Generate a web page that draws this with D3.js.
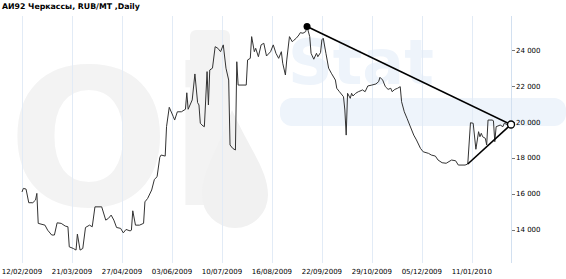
<!DOCTYPE html>
<html lang="ru">
<head>
<meta charset="UTF-8">
<title>АИ92 Черкассы</title>
<style>
  body { margin: 0; background: #fff; }
  svg { display: block; }
  text { font-family: "DejaVu Sans", Verdana, sans-serif; font-size: 7px; fill: #000; }
  .grid line { stroke: #e2ebf6; stroke-width: 1; }
  .price { fill: none; stroke: #333; stroke-width: 1; }
  .trend { stroke: #000; stroke-width: 1.6; }
</style>
</head>
<body>
<script src="https://cdn.jsdelivr.net/npm/d3@7/dist/d3.min.js"></script>
<script>
// price series
const dates = [
  "2009-02-12","2009-02-13","2009-02-15","2009-02-17","2009-02-20","2009-02-22","2009-02-23","2009-02-24",
  "2009-03-01","2009-03-03","2009-03-06","2009-03-08","2009-03-10","2009-03-13","2009-03-16","2009-03-18",
  "2009-03-19","2009-03-22","2009-03-24","2009-03-25","2009-03-27","2009-03-29","2009-03-31","2009-04-03",
  "2009-04-05","2009-04-07","2009-04-12","2009-04-15","2009-04-17","2009-04-19","2009-04-21","2009-04-23",
  "2009-04-26","2009-04-28","2009-04-30","2009-05-03","2009-05-04","2009-05-05","2009-05-07","2009-05-10",
  "2009-05-13","2009-05-14","2009-05-16","2009-05-19","2009-05-21","2009-05-23","2009-05-25","2009-05-26",
  "2009-05-29","2009-05-30","2009-06-01","2009-06-04","2009-06-05","2009-06-07","2009-06-10","2009-06-13",
  "2009-06-14","2009-06-15","2009-06-18","2009-06-20","2009-06-22","2009-06-23","2009-06-24","2009-06-26",
  "2009-06-27","2009-06-29","2009-06-30","2009-07-01","2009-07-03","2009-07-05","2009-07-07","2009-07-09",
  "2009-07-11","2009-07-13","2009-07-15","2009-07-16","2009-07-18","2009-07-20","2009-07-21","2009-07-22",
  "2009-07-28","2009-07-29","2009-07-31","2009-08-01","2009-08-03","2009-08-04","2009-08-06","2009-08-08",
  "2009-08-10","2009-08-12","2009-08-15","2009-08-17","2009-08-19","2009-08-21","2009-08-23","2009-08-24",
  "2009-08-26","2009-08-27","2009-08-29","2009-08-31","2009-09-01","2009-09-03","2009-09-05","2009-09-06",
  "2009-09-08","2009-09-10","2009-09-11","2009-09-13","2009-09-14","2009-09-16","2009-09-18","2009-09-19",
  "2009-09-21","2009-09-22","2009-09-23","2009-09-25","2009-09-27","2009-09-29","2009-10-02","2009-10-03",
  "2009-10-05","2009-10-08","2009-10-09","2009-10-10","2009-10-11","2009-10-13","2009-10-14","2009-10-15",
  "2009-10-17","2009-10-19","2009-10-21","2009-10-22","2009-10-24","2009-10-26","2009-10-29","2009-11-01",
  "2009-11-03","2009-11-04","2009-11-06","2009-11-08","2009-11-10","2009-11-12","2009-11-13","2009-11-15",
  "2009-11-17","2009-11-19","2009-11-20","2009-11-22","2009-11-24","2009-11-26","2009-11-29","2009-12-01",
  "2009-12-04","2009-12-06","2009-12-10","2009-12-12","2009-12-15","2009-12-17","2009-12-20","2009-12-23",
  "2009-12-27","2009-12-30","2010-01-01","2010-01-06","2010-01-08","2010-01-10","2010-01-12","2010-01-14",
  "2010-01-16","2010-01-17","2010-01-18","2010-01-19","2010-01-21","2010-01-22","2010-01-23","2010-01-26",
  "2010-01-27","2010-01-28","2010-01-29","2010-02-01","2010-02-03","2010-02-04","2010-02-07","2010-02-09"
];
const prices = [
  16100,16300,16260,15500,15500,15650,16020,14350,
  14250,13970,13700,13700,14380,14350,14200,14160,
  13040,12950,12860,13750,12860,12950,14120,14250,
  14160,15270,15270,14530,14630,14810,14530,14120,
  14070,13820,14010,13930,13970,15050,14250,14250,
  14350,15550,15740,16210,16800,16950,18030,18160,
  18100,19740,20820,20300,20110,20570,20570,20710,
  21630,20710,21230,22680,21080,20950,19930,19780,
  19740,22810,20950,22900,23000,24200,24110,23920,
  24300,23000,22340,18720,18530,18440,23360,22060,
  22060,23460,23550,24760,23920,24110,23640,24300,
  24390,23680,23920,24300,23830,23550,23920,23280,
  22620,23460,24760,24480,24540,24670,24850,24980,
  24950,25040,25320,24760,23830,23500,23830,23640,
  23870,24580,24670,23830,23000,22720,22340,21880,
  21690,21410,20670,19270,21600,21320,21600,21450,
  21600,21690,21750,21790,21690,22010,22060,22120,
  22250,22490,22340,21970,21820,21880,21690,21820,
  21880,21970,21130,20570,20210,19830,19270,19000,
  18530,18340,18250,18160,18100,17880,17730,17700,
  17880,17840,17600,17600,17660,19960,19930,18480,
  19460,19180,19370,19180,19090,18720,20110,20110,
  20070,18900,19740,19830,19740,19930,19830,19860
];

// axis ticks
const xTicks = ["12/02/2009","21/03/2009","27/04/2009","03/06/2009","10/07/2009",
                "16/08/2009","22/09/2009","29/10/2009","05/12/2009","11/01/2010"];
const yTicks = [14000, 16000, 18000, 20000, 22000, 24000];

// trend lines: [start date, end date]
const trendHigh = ["2009-09-11", "2010-02-09"];
const trendLow = ["2010-01-08", "2010-02-09"];

const W = 566, H = 279;
const parseIso = d3.utcParse("%Y-%m-%d");
const parseTick = d3.utcParse("%d/%m/%Y");
const data = dates.map((d, i) => ({ date: parseIso(d), value: prices[i] }));
const byDate = new Map(dates.map((d, i) => [d, prices[i]]));

const x = d3.scaleUtc()
  .domain([parseIso("2009-02-12"), parseIso("2010-02-09")])
  .range([22, 511]);
const y = d3.scaleLinear()
  .domain([12140, 25910])
  .range([263, 16]);

const svg = d3.select("body").append("svg")
  .attr("width", W).attr("height", H);

// watermark, very faint
const wm = svg.append("g");
wm.append("text").attr("x", 8).attr("y", 205)
  .style("font-size", "190px").style("font-weight", "bold")
  .style("fill", "#f3f3f3").text("Oi");
wm.append("rect").attr("x", 190).attr("y", 30).attr("width", 40).attr("height", 130)
  .attr("rx", 6).attr("fill", "#f3f3f3");
wm.append("path")
  .attr("d", "M232,110 C250,150 268,170 268,195 A33,33 0 1 1 202,195 C202,170 218,150 232,110 Z")
  .attr("fill", "#f1f1f1");
wm.append("text").attr("x", 288).attr("y", 84)
  .style("font-size", "62px").style("font-weight", "bold")
  .style("fill", "#eef4fb").text("Stat");
wm.append("rect").attr("x", 280).attr("y", 98).attr("width", 286).attr("height", 28)
  .attr("rx", 12).attr("fill", "#eef4fb");

// vertical grid
svg.append("g").attr("class", "grid")
  .selectAll("line").data(xTicks).join("line")
  .attr("x1", d => Math.round(x(parseTick(d))) + 0.5)
  .attr("x2", d => Math.round(x(parseTick(d))) + 0.5)
  .attr("y1", 16).attr("y2", 263);

// right axis line
svg.append("line")
  .attr("x1", 511.5).attr("x2", 511.5).attr("y1", 16).attr("y2", 263)
  .attr("stroke", "#d2e0f0");

// x tick labels
svg.append("g").selectAll("text").data(xTicks).join("text")
  .attr("x", d => x(parseTick(d)))
  .attr("y", 274)
  .attr("text-anchor", "middle")
  .text(d => d);

// y ticks on the right
const yAxis = svg.append("g");
yAxis.selectAll("line").data(yTicks).join("line")
  .attr("x1", 512).attr("x2", 515)
  .attr("y1", d => Math.round(y(d)) + 0.5)
  .attr("y2", d => Math.round(y(d)) + 0.5)
  .attr("stroke", "#777");
yAxis.selectAll("text").data(yTicks).join("text")
  .attr("x", 516)
  .attr("y", d => y(d) + 2.5)
  .text(d => d3.format(",")(d).replace(",", " "));

// price line
const line = d3.line().x(d => x(d.date)).y(d => y(d.value));
svg.append("path").datum(data).attr("class", "price").attr("d", line);

// trend lines
[trendHigh, trendLow].forEach(t => {
  svg.append("line").attr("class", "trend")
    .attr("x1", x(parseIso(t[0]))).attr("y1", y(byDate.get(t[0])))
    .attr("x2", x(parseIso(t[1]))).attr("y2", y(byDate.get(t[1])));
});

svg.append("circle")
  .attr("cx", x(parseIso(trendHigh[0]))).attr("cy", y(byDate.get(trendHigh[0])))
  .attr("r", 3.5).attr("fill", "#000");
svg.append("circle")
  .attr("cx", x(parseIso(trendHigh[1]))).attr("cy", y(byDate.get(trendHigh[1])))
  .attr("r", 3.5).attr("fill", "#fff").attr("stroke", "#000").attr("stroke-width", 1.3);

// title
svg.append("text").attr("x", 2).attr("y", 9)
  .style("font-size", "7.8px").style("font-weight", "bold")
  .text("АИ92  Черкассы,  RUB/MT ,Daily");
</script>
</body>
</html>
